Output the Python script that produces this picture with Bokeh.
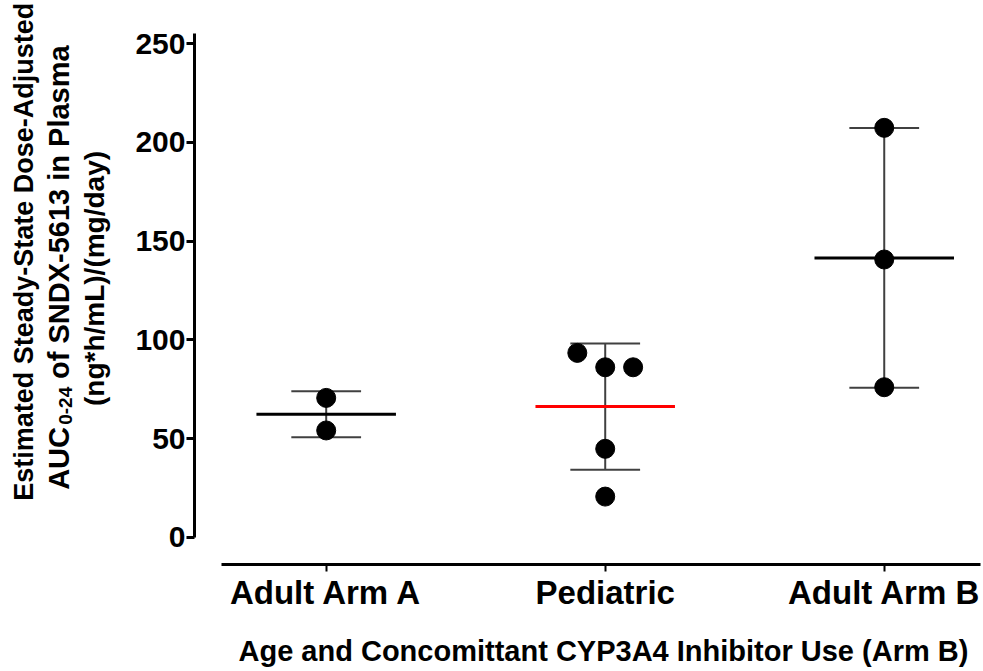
import math
from bokeh.plotting import figure
from bokeh.models import Range1d, FixedTicker, Label, Title
from bokeh.layouts import row
from bokeh.embed import file_html
from bokeh.resources import INLINE

# ---- data ----
categories = ["Adult Arm A", "Pediatric", "Adult Arm B"]
arm_a_vals = [70.6, 54.1]
arm_a_jitter = [0.0, 0.0]
ped_vals = [93.4, 86.1, 86.1, 44.8, 20.6]
ped_jitter = [-0.1, 0.0, 0.1, 0.0, 0.0]
arm_b_vals = [207.4, 140.7, 76.0]
arm_b_jitter = [0.0, 0.0, 0.0]
means = [62.3, 66.2, 141.5]
sds = [11.7, 32.0, 65.8]
mean_colors = ["black", "red", "black"]
y_ticks = [0, 50, 100, 150, 200, 250]

x_title = "Age and Concomittant CYP3A4 Inhibitor Use (Arm B)"
y_title_1 = "Estimated Steady-State Dose-Adjusted"
y_title_2a = "AUC"
y_title_2b = "0-24"
y_title_2c = "of SNDX-5613 in Plasma"
y_title_3 = "(ng*h/mL)/(mg/day)"

FONT = "Liberation Sans"
W, H = 983, 671
TITLE_W = 130

# ---- main plot ----
p = figure(
    width=W - TITLE_W, frame_height=564,
    min_border_left=194 - TITLE_W, min_border_right=3, min_border_top=0, min_border_bottom=107,
    x_range=Range1d(-0.472, 2.345), y_range=Range1d(-13.8, 271.9),
    output_backend="svg", toolbar_location=None,
)
p.outline_line_color = None
p.xgrid.visible = False
p.ygrid.visible = False
p.background_fill_color = "white"
p.border_fill_color = "white"

xa = p.xaxis[0]
xa.ticker = FixedTicker(ticks=list(range(len(categories))))
xa.major_label_overrides = {i: c for i, c in enumerate(categories)}
xa.bounds = (-0.377, 2.345)
xa.axis_line_width = 3
xa.axis_line_color = "black"
xa.major_tick_line_width = 2
xa.major_tick_out = 7
xa.major_tick_in = 0
xa.minor_tick_line_color = None
xa.major_label_text_font = FONT
xa.major_label_text_font_style = "bold"
xa.major_label_text_font_size = "33px"
xa.major_label_text_color = "black"
xa.major_label_standoff = 2

ya = p.yaxis[0]
ya.ticker = FixedTicker(ticks=y_ticks)
ya.bounds = (0, 255.2)
ya.axis_line_width = 3
ya.axis_line_color = "black"
ya.major_tick_line_width = 3
ya.major_tick_out = 8
ya.major_tick_in = 0
ya.minor_tick_line_color = None
ya.major_label_text_font = FONT
ya.major_label_text_font_style = "bold"
ya.major_label_text_font_size = "30px"
ya.major_label_text_color = "black"
ya.major_label_standoff = 1

p.add_layout(Title(text=x_title, align="left", offset=44, text_font=FONT,
                   text_font_style="bold", text_font_size="29px", text_color="black",
                   standoff=38), "below")

# error bars (mean +/- SD)
cap_half = 0.125
mean_half = 0.25
xs = list(range(len(categories)))
lo = [m - s for m, s in zip(means, sds)]
hi = [m + s for m, s in zip(means, sds)]
p.segment(x0=xs, y0=lo, x1=xs, y1=hi, line_color="#404040", line_width=2)
p.segment(x0=[x - cap_half for x in xs], y0=lo, x1=[x + cap_half for x in xs], y1=lo,
          line_color="#404040", line_width=2)
p.segment(x0=[x - cap_half for x in xs], y0=hi, x1=[x + cap_half for x in xs], y1=hi,
          line_color="#404040", line_width=2)
p.segment(x0=[x - mean_half for x in xs], y0=means, x1=[x + mean_half for x in xs], y1=means,
          line_color=mean_colors, line_width=3)

px = [0 + j for j in arm_a_jitter] + [1 + j for j in ped_jitter] + [2 + j for j in arm_b_jitter]
py = arm_a_vals + ped_vals + arm_b_vals
p.scatter(px, py, size=19, marker="circle", fill_color="black", line_color="black")

# ---- left panel holding the multi-line y-axis title (shares the y scale) ----
t = figure(width=TITLE_W, height=H, x_range=Range1d(0, TITLE_W), y_range=p.y_range,
           x_axis_type=None, y_axis_type=None, min_border=0, title=None,
           output_backend="svg", toolbar_location=None)
t.outline_line_color = None
t.background_fill_color = "white"
t.border_fill_color = "white"

def lab(text, x, y, size, align):
    t.add_layout(Label(x=x, y=y, text=text, angle=math.pi / 2, text_align=align,
                       text_baseline="alphabetic", text_font=FONT, text_font_style="bold",
                       text_font_size=size, text_color="black"))

lab(y_title_1, 23.5, 141.4, "27px", "center")
lab(y_title_2a, 58.5, 17.7, "29px", "left")
lab(y_title_2b, 65.0, 51.5, "19px", "left")
lab(y_title_2c, 58.5, 75.3, "29px", "left")
lab(y_title_3, 93.5, 127.5, "28px", "center")

layout = row(t, p, spacing=0)
open("out.html", "w").write(file_html(layout, INLINE))
